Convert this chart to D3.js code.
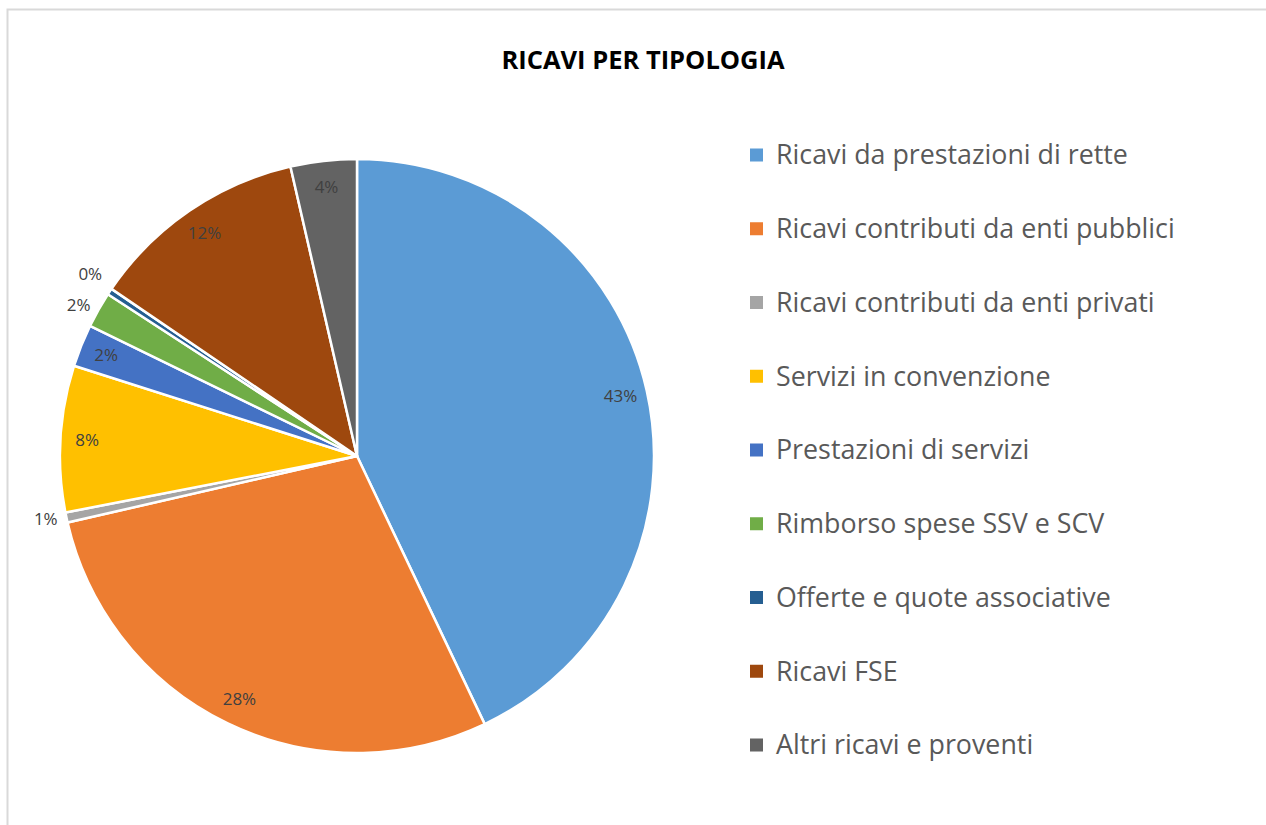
<!DOCTYPE html>
<html>
<head>
<meta charset="utf-8">
<script src="https://cdn.jsdelivr.net/npm/d3@7"></script>
<style>
  body { margin: 0; background: #fff; }
  svg { display: block; font-family: "Open Sans", "Noto Sans", sans-serif; }
</style>
</head>
<body>
<svg id="chart" width="1266" height="825"></svg>
<script>
(function(){
    // data (share of total, in %)
    let categories = [
        "Ricavi da prestazioni di rette",
        "Ricavi contributi da enti pubblici",
        "Ricavi contributi da enti privati",
        "Servizi in convenzione",
        "Prestazioni di servizi",
        "Rimborso spese SSV e SCV",
        "Offerte e quote associative",
        "Ricavi FSE",
        "Altri ricavi e proventi"
    ]
    let values = [42.96, 28.5, 0.55, 7.97, 2.3, 1.95, 0.35, 11.9, 3.6]
    let colors = ["#5B9BD5", "#ED7D31", "#A5A5A5", "#FFC000", "#4472C4", "#70AD47", "#255E91", "#9E480E", "#636363"]
    // labels that Excel put outside the pie
    let outsideLabels = ["Ricavi contributi da enti privati", "Rimborso spese SSV e SCV", "Offerte e quote associative"]

    let data = categories.map((c, i) => ({label: c, value: values[i], color: colors[i]}))
    let total = d3.sum(values)

    let width = 1266, height = 825
    let cx = 357, cy = 456, radius = 297

    let svg = d3.select("svg#chart")

    // chart frame (only top and left edges fall inside the window)
    svg.append("path")
        .attr("d", "M7.5," + height + " V9.5 H" + width)
        .attr("fill", "none")
        .attr("stroke", "#d9d9d9")
        .attr("stroke-width", 2)

    svg.append("text")
        .attr("x", 643)
        .attr("y", 69)
        .attr("text-anchor", "middle")
        .attr("font-size", "25.5px")
        .attr("font-weight", "bold")
        .attr("fill", "#000")
        .text("RICAVI PER TIPOLOGIA")

    let pie = d3.pie()
        .value((d) => d.value)
        .sort(null)

    let arc = d3.arc()
        .innerRadius(0)
        .outerRadius(radius)

    let g = svg.append("g")
        .attr("transform", "translate(" + cx + "," + cy + ")")

    let arcs = pie(data)

    g.selectAll("path.slice")
        .data(arcs)
        .enter()
        .append("path")
            .attr("class", "slice")
            .attr("d", arc)
            .attr("fill", (d) => d.data.color)
            .attr("stroke", "#fff")
            .attr("stroke-width", 2.5)
            .attr("stroke-linejoin", "round")

    let pct = (d) => Math.round(d.data.value / total * 100) + "%"

    // inside labels
    let inner = d3.arc().innerRadius(radius * 0.91).outerRadius(radius * 0.91)
    g.selectAll("text.in")
        .data(arcs.filter((d) => outsideLabels.indexOf(d.data.label) < 0))
        .enter()
        .append("text")
            .attr("class", "in")
            .attr("transform", (d) => "translate(" + inner.centroid(d) + ")")
            .attr("text-anchor", "middle")
            .attr("dy", "0.35em")
            .attr("font-size", "17px")
            .attr("fill", "#404040")
            .text(pct)

    // outside labels, pushed apart if they get too close
    let outer = d3.arc().innerRadius(radius + 9).outerRadius(radius + 9)
    let outs = arcs.filter((d) => outsideLabels.indexOf(d.data.label) >= 0)
        .map((d) => { let p = outer.centroid(d); return {d: d, x: p[0], y: p[1]} })
    outs.sort((a, b) => b.y - a.y)
    for (let i = 1; i < outs.length; i++) {
        if (outs[i - 1].y - outs[i].y < 31) outs[i].y = outs[i - 1].y - 31
    }
    g.selectAll("text.out")
        .data(outs)
        .enter()
        .append("text")
            .attr("class", "out")
            .attr("x", (o) => o.x)
            .attr("y", (o) => o.y)
            .attr("text-anchor", "end")
            .attr("dy", "0.35em")
            .attr("font-size", "17px")
            .attr("fill", "#404040")
            .text((o) => pct(o.d))

    // legend
    let legendY = d3.scalePoint()
        .domain(categories)
        .range([155, 745])

    let legend = svg.selectAll("g.legend")
        .data(data)
        .enter()
        .append("g")
            .attr("class", "legend")
            .attr("transform", (d) => "translate(750," + legendY(d.label) + ")")

    legend.append("rect")
        .attr("x", 0)
        .attr("y", -6.5)
        .attr("width", 13)
        .attr("height", 13)
        .attr("fill", (d) => d.color)

    legend.append("text")
        .attr("x", 26)
        .attr("dy", "0.35em")
        .attr("font-size", "26.8px")
        .attr("fill", "#595959")
        .text((d) => d.label)
})()
</script>
</body>
</html>
